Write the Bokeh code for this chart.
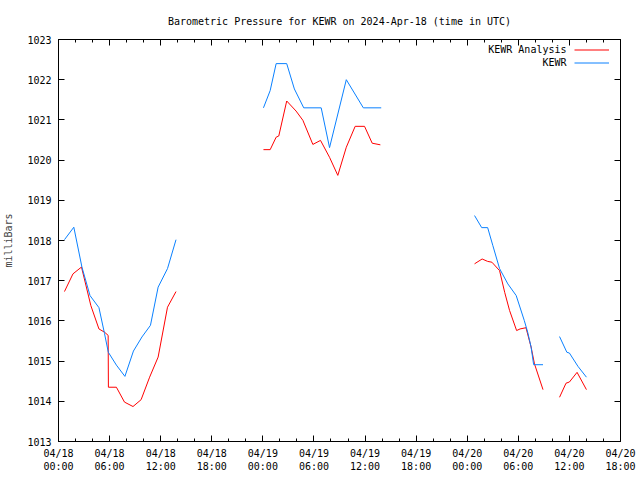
from bokeh.plotting import figure
from bokeh.models import Range1d, FixedTicker, LinearAxis, Legend, LegendItem, Title, Label
from bokeh.embed import file_html
from bokeh.resources import INLINE

NaN = float("nan")

# hours since 2024-04-18 00:00 UTC, pressure in millibars
obs_seg_hours = [
    [0.7, 1.8, 2.75, 3.7, 4.75, 5.4, 5.85, 6.8, 7.8, 8.8, 9.8, 10.8, 11.7, 12.8, 13.8],
    [24.07, 24.86, 25.56, 26.8, 27.7, 28.8, 30.85, 31.83, 33.8, 35.8, 37.9],
    [48.86, 49.7, 50.4, 51.0, 51.8, 52.77, 53.75, 54.7, 55.1, 55.5, 55.8, 56.9],
    [58.84, 59.7, 60.0, 61.0, 62.0],
]
obs_seg_mb = [
    [1018.02, 1018.33, 1017.34, 1016.63, 1016.33, 1015.69, 1015.22, 1014.90, 1014.62, 1015.25, 1015.60, 1015.89, 1016.84, 1017.30, 1018.02],
    [1021.30, 1021.73, 1022.40, 1022.40, 1021.77, 1021.30, 1021.30, 1020.31, 1022.00, 1021.30, 1021.30],
    [1018.62, 1018.32, 1018.32, 1017.88, 1017.30, 1016.92, 1016.63, 1016.01, 1015.72, 1015.35, 1014.91, 1014.91],
    [1015.61, 1015.22, 1015.20, 1014.87, 1014.60],
]
ana_seg_hours = [
    [0.7, 1.7, 2.7, 3.8, 4.75, 5.4, 5.83, 5.86, 6.8, 7.75, 8.75, 9.7, 10.7, 11.7, 12.8, 13.8],
    [24.07, 24.86, 25.56, 25.87, 26.8, 27.9, 28.7, 29.87, 30.77, 31.83, 32.8, 33.8, 34.84, 35.94, 36.84, 37.8],
    [48.86, 49.75, 50.4, 50.9, 51.8, 52.4, 52.97, 53.8, 54.2, 54.9, 55.5, 55.9, 56.9],
    [58.84, 59.6, 60.0, 60.9, 62.0],
]
ana_seg_mb = [
    [1016.73, 1017.17, 1017.34, 1016.38, 1015.80, 1015.72, 1015.64, 1014.35, 1014.35, 1013.98, 1013.87, 1014.04, 1014.60, 1015.10, 1016.34, 1016.73],
    [1020.26, 1020.26, 1020.57, 1020.60, 1021.47, 1021.22, 1020.99, 1020.39, 1020.49, 1020.07, 1019.62, 1020.32, 1020.84, 1020.84, 1020.42, 1020.38],
    [1017.42, 1017.54, 1017.48, 1017.46, 1017.25, 1016.71, 1016.26, 1015.76, 1015.80, 1015.83, 1015.35, 1014.93, 1014.29],
    [1014.10, 1014.45, 1014.48, 1014.72, 1014.29],
]

series_names = ["KEWR Analysis", "KEWR"]

tick_hours = [0, 6, 12, 18, 24, 30, 36, 42, 48, 54, 60, 66]
tick_dates = ["04/18", "04/18", "04/18", "04/18", "04/19", "04/19", "04/19", "04/19", "04/20", "04/20", "04/20", "04/20"]
tick_times = ["00:00", "06:00", "12:00", "18:00"] * 3
y_ticks = list(range(1013, 1024))

title_text = "Barometric Pressure for KEWR on 2024-Apr-18 (time in UTC)"
FONT = "DejaVu Sans Mono"
FS = "10px"


def join(segs):
    out = []
    for i, s in enumerate(segs):
        if i:
            out.append(NaN)
        out.extend(s)
    return out


p = figure(frame_width=562, frame_height=402,
           x_range=Range1d(0, 66), y_range=Range1d(1013, 1023),
           output_backend="svg", toolbar_location=None,
           min_border_left=51, min_border_top=39, min_border_right=18, min_border_bottom=36,
           background_fill_color="white", border_fill_color="white")
p.xaxis.visible = False
p.yaxis.visible = False
p.xgrid.visible = False
p.ygrid.visible = False
p.outline_line_color = "black"
p.outline_line_width = 1

xt = FixedTicker(ticks=tick_hours, minor_ticks=list(range(0, 67, 2)))
yt = FixedTicker(ticks=y_ticks, minor_ticks=[])
overrides = {h: d + "\n" + t for h, d, t in zip(tick_hours, tick_dates, tick_times)}


def style(ax):
    ax.axis_line_color = None
    ax.major_tick_in = 6
    ax.major_tick_out = 0
    ax.minor_tick_in = 3
    ax.minor_tick_out = 0
    ax.major_tick_line_color = "black"
    ax.minor_tick_line_color = "black"
    ax.major_label_text_font = FONT
    ax.major_label_text_font_size = FS
    ax.major_label_text_color = "black"


xb = LinearAxis(ticker=xt, major_label_overrides=overrides)
style(xb)
xb.major_label_standoff = 6
p.add_layout(xb, "below")

xa = LinearAxis(ticker=xt)
style(xa)
xa.major_label_text_color = None
xa.major_label_text_font_size = "0px"
xa.major_label_standoff = 0
p.add_layout(xa, "above")

yl = LinearAxis(ticker=yt, axis_label="milliBars")
style(yl)
yl.major_label_standoff = 7
yl.axis_label_text_font = FONT
yl.axis_label_text_font_size = FS
yl.axis_label_text_font_style = "normal"
yl.axis_label_standoff = 10
p.add_layout(yl, "left")

yr = LinearAxis(ticker=yt)
style(yr)
yr.major_label_text_color = None
yr.major_label_text_font_size = "0px"
p.add_layout(yr, "right")

p.add_layout(Title(text=title_text, align="center", text_font=FONT, text_font_size=FS,
                   text_font_style="normal", text_color="black", standoff=26), "above")

r_ana = p.line(join(ana_seg_hours), join(ana_seg_mb), line_color="#ff0000", line_width=1)
r_obs = p.line(join(obs_seg_hours), join(obs_seg_mb), line_color="#0a80ff", line_width=1)

# legend: sample lines at the right, names right-aligned to their left
legend = Legend(items=[LegendItem(label=" ", renderers=[r_ana]),
                       LegendItem(label=" ", renderers=[r_obs])],
                location="top_right")
legend.border_line_color = None
legend.background_fill_alpha = 0
legend.label_text_font = FONT
legend.label_text_font_size = FS
legend.glyph_width = 35
legend.glyph_height = 13
legend.label_height = 13
legend.label_width = 6
legend.spacing = 0
legend.padding = 0
legend.margin = 4
legend.label_standoff = 1
p.add_layout(legend)

for i, name in enumerate(series_names):
    p.add_layout(Label(x=508, y=392 - 13 * i, x_units="screen", y_units="screen",
                       text=name, text_align="right", text_baseline="middle",
                       text_font=FONT, text_font_size=FS, text_color="black"))

open("out.html", "w").write(file_html(p, INLINE))
